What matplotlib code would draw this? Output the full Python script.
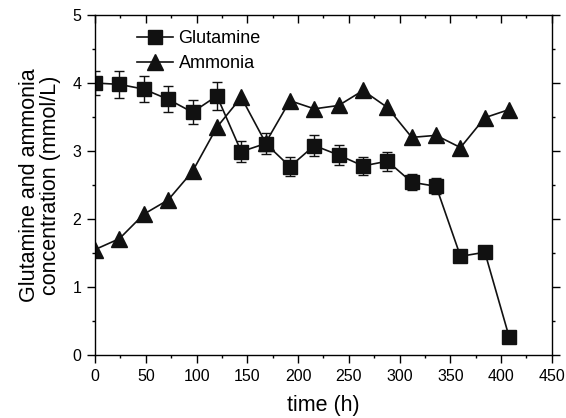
import matplotlib
matplotlib.use("Agg")
import matplotlib.pyplot as plt
from matplotlib.ticker import MultipleLocator
from matplotlib.lines import Line2D

plt.rcParams['font.family'] = ['Liberation Sans', 'DejaVu Sans']

time_h = [0, 24, 48, 72, 96, 120, 144, 168, 192, 216, 240, 264, 288, 312, 336, 360, 384, 408]
glutamine = [4.00, 3.98, 3.91, 3.76, 3.57, 3.81, 2.99, 3.11, 2.77, 3.08, 2.94, 2.78, 2.85, 2.54, 2.48, 1.45, 1.51, 0.26]
glutamine_err = [0.18, 0.20, 0.19, 0.19, 0.18, 0.20, 0.15, 0.15, 0.14, 0.15, 0.15, 0.13, 0.14, 0.12, 0.12, 0.0, 0.0, 0.0]
ammonia = [1.55, 1.71, 2.07, 2.28, 2.70, 3.35, 3.79, 3.12, 3.74, 3.62, 3.67, 3.89, 3.64, 3.20, 3.23, 3.05, 3.49, 3.61]

x_ticks = [0, 50, 100, 150, 200, 250, 300, 350, 400, 450]
y_ticks = [0, 1, 2, 3, 4, 5]

fig = plt.figure(figsize=(5.66, 4.18), dpi=100)
ax = fig.add_axes([0.168, 0.151, 0.807, 0.813])

col = '#111111'
ax.errorbar(time_h, glutamine, yerr=glutamine_err, color=col, marker='s', markersize=10,
            linewidth=1.2, capsize=3.5, elinewidth=1.0, capthick=1.0, label='Glutamine')
ax.plot(time_h, ammonia, color=col, marker='^', markersize=11, linewidth=1.2, label='Ammonia')

ax.set_xlim(0, 450)
ax.set_ylim(0, 5)
ax.set_xticks(x_ticks)
ax.set_yticks(y_ticks)
ax.xaxis.set_minor_locator(MultipleLocator(25))
ax.yaxis.set_minor_locator(MultipleLocator(0.5))
ax.tick_params(axis='both', which='both', direction='out', labelsize=11.5, width=1.0)
ax.tick_params(which='major', length=5.5, pad=4.5)
ax.tick_params(which='minor', length=2.5)
ax.tick_params(top=True, right=True, which='both')
for t in ax.xaxis.get_ticklines(minor=False)[1::2] + ax.xaxis.get_ticklines(minor=True)[1::2]:
    t.set_marker(3)
for t in ax.yaxis.get_ticklines(minor=False)[1::2] + ax.yaxis.get_ticklines(minor=True)[1::2]:
    t.set_marker(1)
for s in ax.spines.values():
    s.set_linewidth(1.0)

ax.set_xlabel('time (h)', fontsize=15.5, labelpad=8)
ax.set_ylabel('Glutamine and ammonia\nconcentration (mmol/L)', fontsize=15.5, labelpad=8,
              linespacing=1.0)

handles = [Line2D([], [], color=col, marker='s', markersize=10, linewidth=1.2),
           Line2D([], [], color=col, marker='^', markersize=11, linewidth=1.2)]
ax.legend(handles, ['Glutamine', 'Ammonia'], loc='upper left', bbox_to_anchor=(0.068, 0.987),
          frameon=False, fontsize=13, handlelength=2.0, handletextpad=0.3, labelspacing=0.45,
          borderaxespad=0.2)

fig.savefig('out.png', dpi=100)
